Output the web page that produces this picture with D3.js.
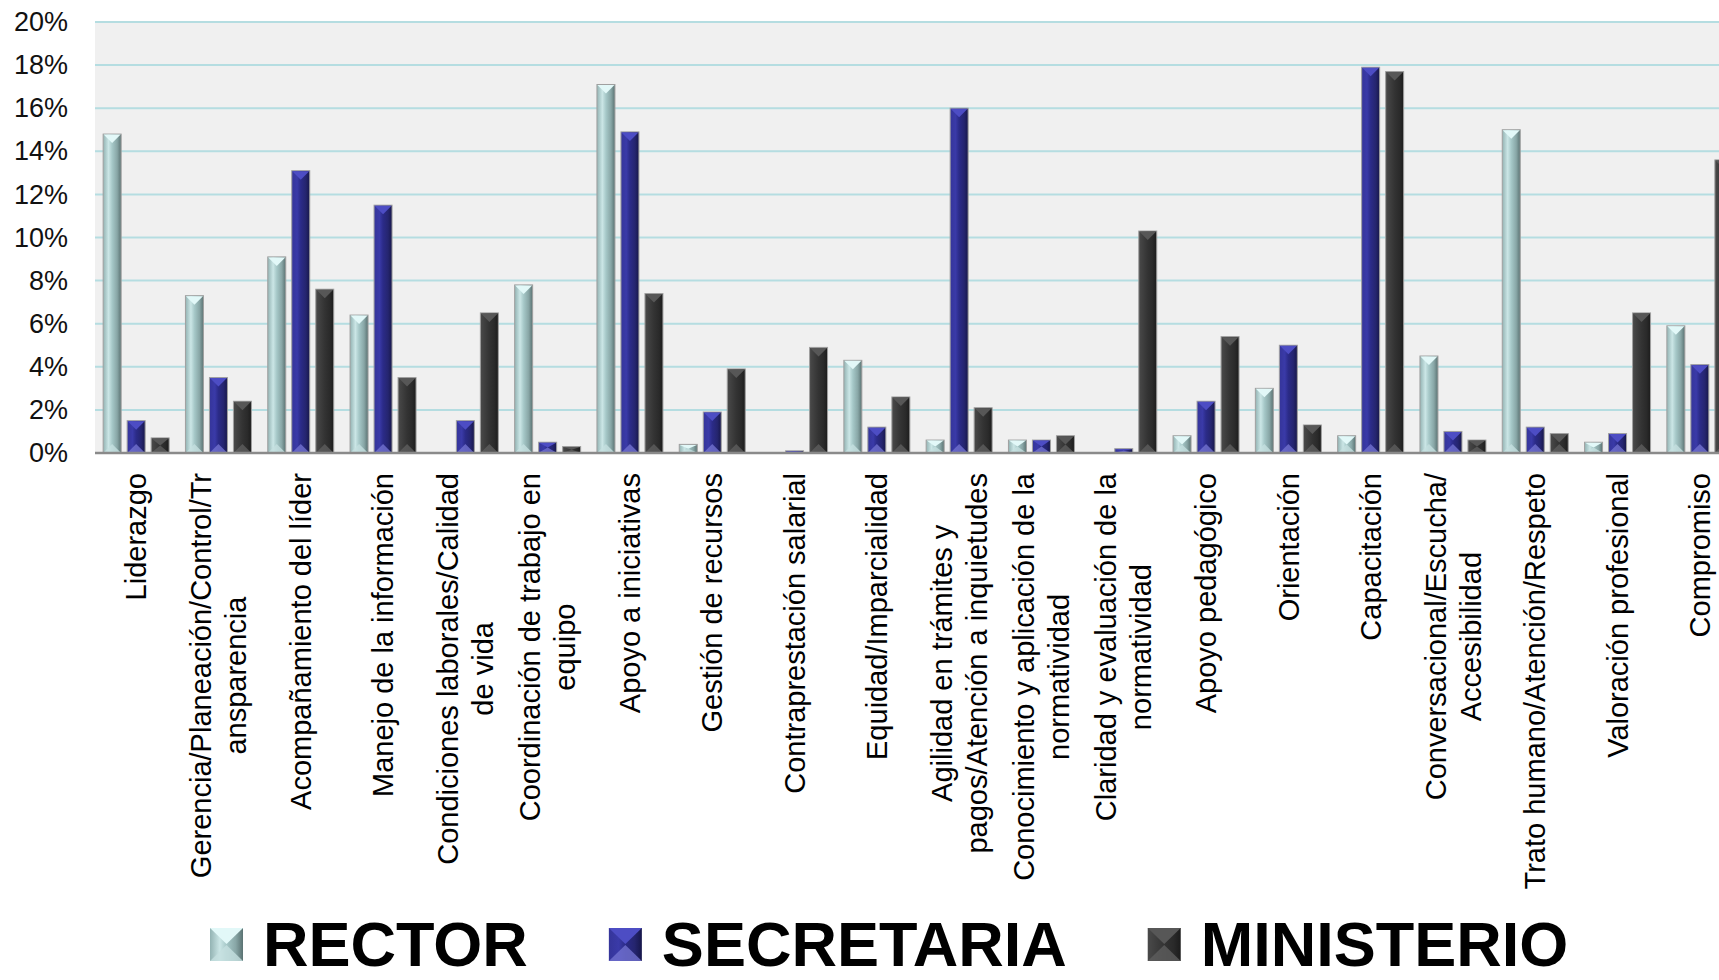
<!DOCTYPE html>
<html>
<head>
<meta charset="utf-8">
<script src="https://cdn.jsdelivr.net/npm/d3@7"></script>
<style>
  body { margin: 0; background: #fff; }
  svg { display: block; font-family: "Liberation Sans", Arial, sans-serif; }
</style>
</head>
<body>
<div id="chart"></div>
<script>
// Categories (line breaks as they wrap on the axis)
const categories = [
  "Liderazgo",
  "Gerencia/Planeación/Control/Tr\nansparencia",
  "Acompañamiento del líder",
  "Manejo de la información",
  "Condiciones laborales/Calidad\nde vida",
  "Coordinación de trabajo en\nequipo",
  "Apoyo a iniciativas",
  "Gestión de recursos",
  "Contraprestación salarial",
  "Equidad/Imparcialidad",
  "Agilidad en trámites y\npagos/Atención a inquietudes",
  "Conocimiento y aplicación de la\nnormatividad",
  "Claridad y evaluación de la\nnormatividad",
  "Apoyo pedagógico",
  "Orientación",
  "Capacitación",
  "Conversacional/Escucha/\nAccesibilidad",
  "Trato humano/Atención/Respeto",
  "Valoración profesional",
  "Compromiso"
]

const series_names = ["RECTOR", "SECRETARIA", "MINISTERIO"]

// values in %
const rector =     [14.8, 7.3, 9.1, 6.4, 0.0, 7.8, 17.1, 0.4, 0.0, 4.3, 0.6, 0.6, 0.0, 0.8, 3.0, 0.8, 4.5, 15.0, 0.5, 5.9]
const secretaria = [1.5, 3.5, 13.1, 11.5, 1.5, 0.5, 14.9, 1.9, 0.1, 1.2, 16.0, 0.6, 0.2, 2.4, 5.0, 17.9, 1.0, 1.2, 0.9, 4.1]
const ministerio = [0.7, 2.4, 7.6, 3.5, 6.5, 0.3, 7.4, 3.9, 4.9, 2.6, 2.1, 0.8, 10.3, 5.4, 1.3, 17.7, 0.6, 0.9, 6.5, 13.6]

const y_ticks = [0, 2, 4, 6, 8, 10, 12, 14, 16, 18, 20]

const width = 1719
const height = 980
const plot_left = 95
const plot_top = 22
const plot_bottom = 453
const band_step = 82.3

const series_values = [rector, secretaria, ministerio]

// bevel colours per series
const styles = [
  { id: "g_rector", stops: ["#93b3b3", "#cbe6e6", "#a6c8c8", "#88a6a6", "#5a7272"], top: "#e2f8f8", bottom: "#c6e0e0" },
  { id: "g_secretaria", stops: ["#35359a", "#3a3aa8", "#2b2b88", "#25256f", "#17174a"], top: "#4d4dc4", bottom: "#7272d0" },
  { id: "g_ministerio", stops: ["#4a4a4a", "#3c3c3c", "#333333", "#2a2a2a", "#1c1c1c"], top: "#575757", bottom: "#5e5e5e" }
]

const svg = d3.select("#chart").append("svg")
  .attr("width", width)
  .attr("height", height)

const defs = svg.append("defs")
styles.forEach(s => {
  const grad = defs.append("linearGradient")
    .attr("id", s.id)
    .attr("x1", "0%").attr("x2", "100%").attr("y1", "0%").attr("y2", "0%")
  const offsets = [0, 0.3, 0.5, 0.78, 1]
  s.stops.forEach((c, i) => {
    grad.append("stop").attr("offset", offsets[i]).attr("stop-color", c)
  })
})

// Scales
const x0 = d3.scaleBand()
  .domain(categories)
  .range([plot_left, plot_left + band_step * categories.length])
  .padding(0)

const x1 = d3.scaleBand()
  .domain(series_names)
  .range([8.15, band_step - 8.15])
  .paddingInner(0.25)
  .paddingOuter(0)

const y = d3.scaleLinear()
  .domain([0, 20])
  .range([plot_bottom, plot_top])

// Plot background
svg.append("rect")
  .attr("x", plot_left)
  .attr("y", plot_top)
  .attr("width", width - plot_left)
  .attr("height", plot_bottom - plot_top)
  .attr("fill", "#f0f0f0")

// Gridlines
svg.append("g")
  .selectAll("line")
  .data(y_ticks.filter(t => t > 0))
  .join("line")
  .attr("x1", plot_left)
  .attr("x2", width)
  .attr("y1", d => y(d))
  .attr("y2", d => y(d))
  .attr("stroke", "#b5dde1")
  .attr("stroke-width", 2)

// Y axis labels
const y_axis = svg.append("g")
  .attr("transform", `translate(${plot_left},0)`)
  .call(d3.axisLeft(y).tickValues(y_ticks).tickSize(0).tickPadding(27).tickFormat(d => d + "%"))
y_axis.select(".domain").remove()
y_axis.selectAll("text")
  .attr("font-size", 27)
  .attr("font-family", "Liberation Sans, Arial, sans-serif")
  .attr("fill", "#111")

// Bars
const bw = x1.bandwidth()
series_names.forEach((name, si) => {
  const st = styles[si]
  const g = svg.append("g").attr("class", "series")
  categories.forEach((cat, ci) => {
    const v = series_values[si][ci]
    if (v <= 0) return
    const bx = x0(cat) + x1(name)
    const top = y(v)
    const h = plot_bottom - top
    g.append("rect")
      .attr("x", bx)
      .attr("y", top)
      .attr("width", bw)
      .attr("height", h)
      .attr("fill", `url(#${st.id})`)
      .attr("stroke", "#a0a0a0")
      .attr("stroke-width", 1)
    const bev = Math.min(9, h / 2)
    // top bevel
    g.append("polygon")
      .attr("points", [[bx + 0.5, top + 0.5], [bx + bw - 0.5, top + 0.5], [bx + bw / 2, top + bev]].join(" "))
      .attr("fill", st.top)
    // bottom bevel
    g.append("polygon")
      .attr("points", [[bx + 0.5, plot_bottom - 0.5], [bx + bw - 0.5, plot_bottom - 0.5], [bx + bw / 2, plot_bottom - bev]].join(" "))
      .attr("fill", st.bottom)
      .attr("opacity", 0.8)
  })
})

// Baseline
svg.append("line")
  .attr("x1", plot_left)
  .attr("x2", width)
  .attr("y1", plot_bottom)
  .attr("y2", plot_bottom)
  .attr("stroke", "#8a8a8a")
  .attr("stroke-width", 2.5)

// Category labels, rotated, lines centred in their block
const label_size = 29
const line_h = 35
categories.forEach(cat => {
  const lines = cat.split("\n")
  const cx = x0(cat) + x0.bandwidth() / 2
  const g = svg.append("g")
    .attr("transform", `translate(${cx},${plot_bottom + 20}) rotate(-90)`)
  const texts = lines.map((ln, i) => g.append("text")
    .attr("y", (i - (lines.length - 1) / 2) * line_h)
    .attr("dy", "0.35em")
    .attr("text-anchor", "middle")
    .attr("font-size", label_size)
    .attr("fill", "#000")
    .text(ln))
  const max_w = d3.max(texts, t => t.node().getComputedTextLength())
  texts.forEach(t => t.attr("x", -max_w / 2))
})

// Legend
const legend = svg.append("g")
const legend_base = 966
let lx = 210
series_names.forEach((name, si) => {
  const st = styles[si]
  const sy = legend_base - 38
  legend.append("rect")
    .attr("x", lx).attr("y", sy)
    .attr("width", 33).attr("height", 33)
    .attr("fill", `url(#${st.id})`)
  legend.append("polygon")
    .attr("points", [[lx, sy], [lx + 33, sy], [lx + 16.5, sy + 16]].join(" "))
    .attr("fill", st.top)
  legend.append("polygon")
    .attr("points", [[lx, sy + 33], [lx + 33, sy + 33], [lx + 16.5, sy + 17]].join(" "))
    .attr("fill", st.bottom)
    .attr("opacity", 0.8)
  const t = legend.append("text")
    .attr("x", lx + 53)
    .attr("y", legend_base)
    .attr("font-size", 63)
    .attr("font-weight", "bold")
    .attr("fill", "#000")
    .text(name)
  lx = lx + 53 + t.node().getComputedTextLength() + 81
})
</script>
</body>
</html>
